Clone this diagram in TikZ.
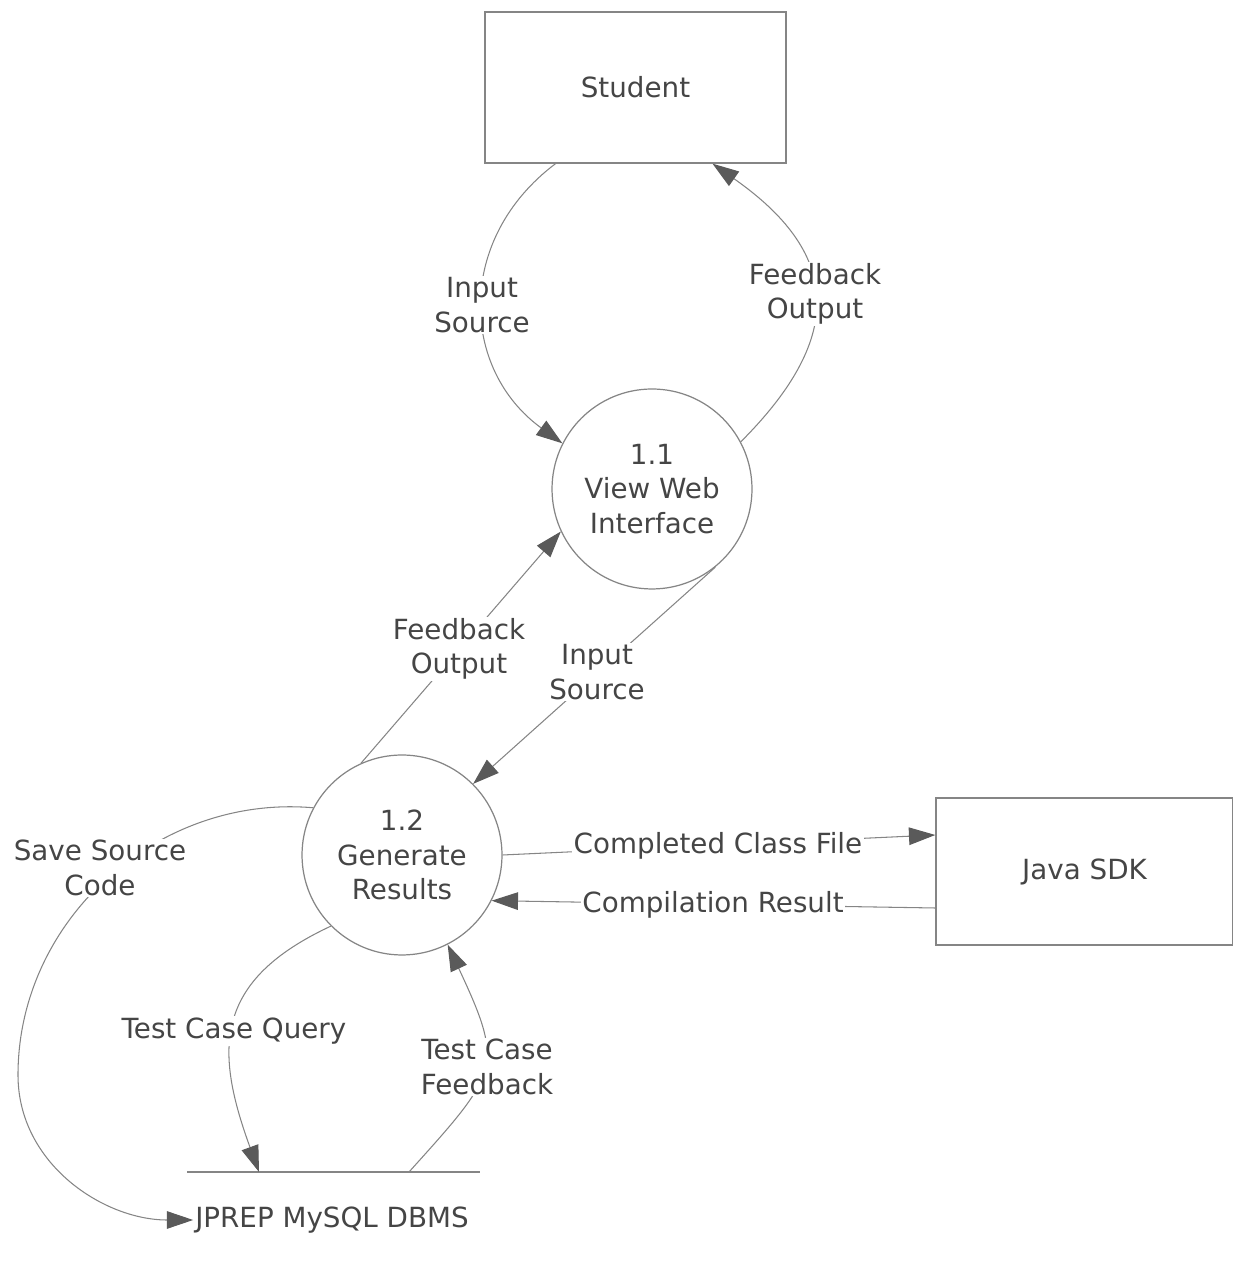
\documentclass[tikz,border=0pt]{standalone}
\usepackage{fontspec}
\setmainfont{DejaVu Sans}
\usetikzlibrary{arrows.meta,calc}
\definecolor{linec}{HTML}{858585}
\definecolor{tipc}{HTML}{5A5A5A}
\definecolor{textc}{HTML}{454545}
\tikzset{
 every node/.style={font=\fontsize{15.8}{19.5}\selectfont, text=textc},
 entity/.style={draw=linec, line width=0.8pt, rectangle, minimum width=6.02cm, minimum height=3.02cm},
 proc/.style={draw=linec, line width=0.7pt, circle, minimum size=4cm, align=center},
 flow/.style={draw=linec, line width=0.6pt, -{Triangle[length=15pt,width=10pt,color=tipc]}},
 dline/.style={draw=linec, line width=0.7pt},
 lbl/.style={fill=white, align=center, inner sep=1pt},
}
\begin{document}
\begin{tikzpicture}[x=0.02cm,y=0.02cm]
\useasboundingbox (0,0) rectangle (1233,1264);
\node[entity] (student) at (635.5,1176.5) {Student};
\node[proc] (c1) at (652,775) {1.1\\View Web\\Interface};
\node[proc] (c2) at (402,409) {1.2\\Generate\\Results};
\node[entity, minimum width=5.94cm, minimum height=2.94cm] (java) at (1084.5,392.5) {Java SDK};
\node[inner sep=1pt] (db) at (332,44) {JPREP MySQL DBMS};
\coordinate (dbL) at (187,92);
\coordinate (dbR) at (480,92);
\coordinate (dbQ) at (259,92);
\coordinate (dbF) at (409,92);
\coordinate (ssw) at (18,189);
\draw[dline] (dbL) -- (dbR);

\draw[flow] ($(student.south)+(-80,0)$) to[out=217,in=144,looseness=1.15] (c1.153);
\draw[flow] (c1.28) to[out=45,in=-35,looseness=1.4] ($(student.south)+(77,0)$);
\draw[flow] (c2.114) -- (c1.205);
\draw[flow] (c1.-51) -- (c2.45);
\draw[flow] (c2.0) -- ($(java.west)+(0,36.5)$);
\draw[flow] ($(java.west)+(0,-36.5)$) -- (c2.-27);
\draw[flow] (c2.-135) .. controls +(205:130) and +(110:130) .. (dbQ);
\draw[flow] (dbF) .. controls +(48:135) and +(-65:135) .. (c2.-63);
\draw[flow] (c2.152) to[out=175,in=90] (ssw) to[out=-90,in=180] (db.west);

\node[lbl] (l1) at (482,959) {Input\\Source};
\node[lbl] (l2) at (815,970) {Feedback\\Output};
\node[lbl] (l3) at (459,615) {Feedback\\Output};
\node[lbl] (l4) at (597,592) {Input\\Source};
\node[lbl] (l5) at (718,418) {Completed Class File};
\node[lbl] (l6) at (713,359) {Compilation Result};
\node[lbl] (l7) at (100,396) {Save Source\\Code};
\node[lbl] (l8) at (234,233) {Test Case Query};
\node[lbl] (l9) at (487,197) {Test Case\\Feedback};
\end{tikzpicture}
\end{document}
